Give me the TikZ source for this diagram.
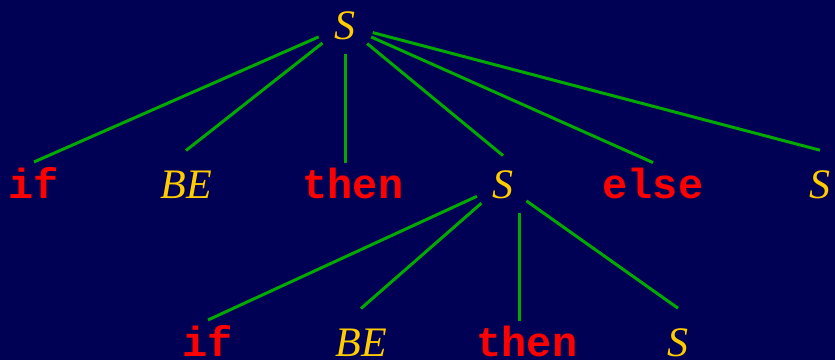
\documentclass[tikz,border=0pt]{standalone}
\usepackage{fontspec}
\setmainfont{Liberation Serif}
\setmonofont{Liberation Mono}
\usepackage{tikz}
\definecolor{pbg}{HTML}{000055}
\definecolor{pgold}{HTML}{FFCC00}
\definecolor{pred}{HTML}{FF0000}
\definecolor{pgreen}{HTML}{00AA00}

\begin{document}
\begin{tikzpicture}[
  x=0.5pt, y=-0.5pt,
  nt/.style={font=\fontsize{21}{25}\selectfont\itshape, text=pgold,
    inner sep=0pt, outer xsep=0pt, outer ysep=10pt, anchor=base},
  parent/.style={nt, circle, inner sep=4pt, outer sep=0pt},
  kw/.style={font=\fontsize{21}{25}\selectfont\ttfamily\bfseries, text=pred,
    inner sep=0pt, outer xsep=0pt, outer ysep=2.5pt, anchor=base},
  edge/.style={draw=pgreen, line width=1.5pt},
]
\useasboundingbox (0,0) rectangle (835,360);
\fill[pbg] (0,0) rectangle (835,360);
% root
\node[parent] (s0) at (345,39) {S};
% first level
\node[kw] (if1) at (34,198) {if};
\node[nt] (be1) at (186,198) {BE};
\node[kw] (then1) at (353,198) {then};
\node[parent] (s1) at (503,198) {S};
\node[kw] (else1) at (653,198) {else};
\node[nt] (s2) at (820,198) {S};
% second level
\node[kw] (if2) at (208,356) {if};
\node[nt] (be2) at (361,356) {BE};
\node[kw] (then2) at (527,356) {then};
\node[nt] (s3) at (678,356) {S};
% edges
\draw[edge] (s0) -- (if1.north);
\draw[edge] (s0) -- (be1.north);
\draw[edge] ([xshift=-4pt]then1.north) -- ([xshift=-4pt]then1.north |- s0.south);
\draw[edge] (s0) -- (s1.north);
\draw[edge] (s0) -- (else1.north);
\draw[edge] (s0) -- (s2.north);
\draw[edge] (s1) -- (if2.north);
\draw[edge] (s1) -- (be2.north);
\draw[edge] ([xshift=-4pt]then2.north) -- ([xshift=-4pt]then2.north |- s1.south);
\draw[edge] (s1) -- (s3.north);
\end{tikzpicture}
\end{document}
